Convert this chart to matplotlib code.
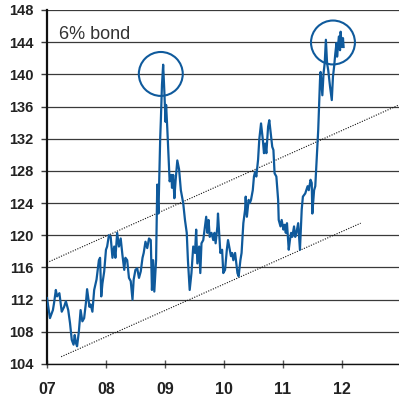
import matplotlib
matplotlib.use("Agg")
import matplotlib.pyplot as plt

# bond price (decimal year, price)
years = [
    2007.00, 2007.05, 2007.10, 2007.12, 2007.15, 2007.17, 2007.21, 2007.25, 2007.29, 2007.32,
    2007.36, 2007.39, 2007.42, 2007.45, 2007.47, 2007.49, 2007.51, 2007.54, 2007.57, 2007.60,
    2007.63, 2007.66, 2007.68, 2007.72, 2007.74, 2007.77, 2007.80, 2007.84, 2007.88, 2007.90,
    2007.92, 2007.94, 2007.97, 2008.00, 2008.02, 2008.05, 2008.08, 2008.11, 2008.14, 2008.16,
    2008.19, 2008.22, 2008.25, 2008.28, 2008.31, 2008.33, 2008.36, 2008.39, 2008.42, 2008.45,
    2008.47, 2008.50, 2008.53, 2008.56, 2008.59, 2008.62, 2008.64, 2008.67, 2008.70, 2008.73,
    2008.76, 2008.78, 2008.80, 2008.82, 2008.85, 2008.87, 2008.89, 2008.92, 2008.93, 2008.95,
    2008.97, 2008.99, 2009.01, 2009.02, 2009.04, 2009.06, 2009.08, 2009.11, 2009.12, 2009.14,
    2009.16, 2009.18, 2009.21, 2009.24, 2009.27, 2009.31, 2009.34, 2009.37, 2009.39, 2009.42,
    2009.45, 2009.48, 2009.51, 2009.53, 2009.55, 2009.58, 2009.60, 2009.62, 2009.65, 2009.68,
    2009.70, 2009.72, 2009.74, 2009.76, 2009.79, 2009.82, 2009.84, 2009.86, 2009.89, 2009.90,
    2009.92, 2009.94, 2009.97, 2009.99, 2010.02, 2010.05, 2010.07, 2010.10, 2010.12, 2010.14,
    2010.16, 2010.19, 2010.21, 2010.23, 2010.25, 2010.28, 2010.30, 2010.33, 2010.36, 2010.37,
    2010.39, 2010.42, 2010.44, 2010.46, 2010.49, 2010.51, 2010.53, 2010.55, 2010.58, 2010.60,
    2010.63, 2010.66, 2010.68, 2010.70, 2010.72, 2010.75, 2010.77, 2010.80, 2010.82, 2010.84,
    2010.86, 2010.89, 2010.92, 2010.93, 2010.96, 2010.98, 2011.01, 2011.03, 2011.05, 2011.07,
    2011.10, 2011.12, 2011.14, 2011.16, 2011.19, 2011.21, 2011.23, 2011.26, 2011.29, 2011.32,
    2011.34, 2011.38, 2011.42, 2011.44, 2011.47, 2011.49, 2011.50, 2011.53, 2011.55, 2011.57,
    2011.60, 2011.63, 2011.64, 2011.67, 2011.69, 2011.71, 2011.73, 2011.75, 2011.77, 2011.80,
    2011.83, 2011.85, 2011.87, 2011.89, 2011.91, 2011.92, 2011.95, 2011.97, 2011.98, 2012.00,
    2012.02, 2012.03,
]
price = [
    112.2, 109.7, 110.7, 111.6, 113.2, 112.4, 112.8, 110.5, 111.1, 111.8,
    110.7, 109.1, 107.0, 106.4, 107.6, 106.6, 106.2, 108.0, 110.7, 109.3,
    109.7, 111.6, 113.3, 111.1, 111.4, 110.5, 113.2, 114.5, 116.9, 117.2,
    112.4, 114.0, 115.5, 118.2, 118.6, 120.0, 119.8, 117.2, 118.6, 117.2,
    120.3, 118.6, 119.6, 117.5, 115.7, 117.2, 116.9, 114.7, 114.3, 112.0,
    114.5, 115.7, 115.9, 114.7, 115.5, 117.2, 117.8, 119.2, 118.4, 119.6,
    119.4, 113.2, 116.9, 113.0, 116.9, 126.3, 122.7, 132.1, 134.1, 138.7,
    141.2, 137.9, 134.1, 136.2, 133.3, 130.0, 126.7, 127.5, 125.9, 127.5,
    124.6, 126.7, 129.3, 128.2, 125.6, 124.0, 121.9, 120.3, 116.9, 113.2,
    115.3, 118.6, 117.8, 120.7, 116.5, 118.6, 115.3, 119.0, 119.4, 121.1,
    122.3, 120.3, 121.9, 119.8, 120.3, 119.4, 120.3, 119.0, 121.1, 122.7,
    120.3, 117.8, 118.2, 115.3, 115.7, 118.2, 119.4, 118.2, 117.4, 117.8,
    116.9, 117.8, 116.5, 115.3, 114.9, 116.9, 117.8, 121.5, 123.2, 124.8,
    122.3, 124.4, 124.0, 124.4, 125.6, 127.3, 127.9, 127.3, 129.4, 131.9,
    133.9, 131.9, 130.2, 131.4, 130.2, 133.5, 134.3, 132.3, 131.0, 130.6,
    127.7, 127.3, 124.4, 121.9, 121.1, 121.9, 120.7, 121.3, 120.3, 121.5,
    118.2, 119.4, 120.3, 119.8, 121.1, 119.8, 120.3, 121.5, 118.2, 123.2,
    124.8, 125.2, 126.1, 125.6, 126.9, 126.5, 122.7, 125.6, 126.1, 129.0,
    133.1, 139.3, 140.3, 137.4, 140.1, 141.4, 144.3, 141.4, 140.5, 138.5,
    136.8, 139.7, 141.0, 142.6, 143.9, 142.2, 144.7, 143.0, 145.3, 143.4,
    144.5, 143.4,
]

# trend channel end points
upper_x = [2007.00, 2012.97]
upper_y = [116.6, 136.2]
lower_x = [2007.24, 2012.32]
lower_y = [104.9, 121.5]

# highlighted peaks
peak_x = [2008.93, 2011.85]
peak_y = [140.05, 143.96]

year_ticks = [2007, 2008, 2009, 2010, 2011, 2012]
year_labels = ['07', '08', '09', '10', '11', '12']
price_ticks = list(range(104, 149, 4))

blue = '#0f5a9c'

plt.rcParams['font.family'] = ['Liberation Sans', 'DejaVu Sans']

fig = plt.figure(figsize=(3.99, 4.01), dpi=100)
ax = fig.add_axes([0.1178, 0.0923, 0.8822, 0.8828])

for y in price_ticks:
    ax.axhline(y, color='#3a3a3a', lw=0.9, zorder=1)

ax.plot(upper_x, upper_y, color='#111111', lw=0.8, ls=(0, (1, 1.3)), zorder=2)
ax.plot(lower_x, lower_y, color='#111111', lw=0.8, ls=(0, (1, 1.3)), zorder=2)

ax.plot(years, price, color=blue, lw=1.6, zorder=3)

ax.scatter(peak_x, peak_y, s=1000, facecolors='none', edgecolors=blue,
           linewidths=1.5, zorder=4, clip_on=False)

ax.text(0.035, 0.955, '6% bond', transform=ax.transAxes, fontsize=13,
        color='#333333', va='top', ha='left')

ax.set_xlim(2007, 2012.97)
ax.set_ylim(104, 148)
ax.set_xticks(year_ticks)
ax.set_xticklabels(year_labels)
ax.set_yticks(price_ticks)

for side in ['top', 'right']:
    ax.spines[side].set_visible(False)
ax.spines['left'].set_linewidth(1.6)
ax.spines['left'].set_color('#111111')
ax.spines['bottom'].set_linewidth(1.0)
ax.spines['bottom'].set_color('#111111')

ax.tick_params(axis='x', direction='inout', length=6, width=1, color='#555555',
               pad=10, labelsize=11.5)
ax.tick_params(axis='y', direction='out', length=4.5, width=1, color='#3a3a3a',
               pad=5, labelsize=10.5)
for lab in ax.get_xticklabels() + ax.get_yticklabels():
    lab.set_fontweight('bold')
    lab.set_color('#222222')

fig.savefig('out.png', dpi=100)
